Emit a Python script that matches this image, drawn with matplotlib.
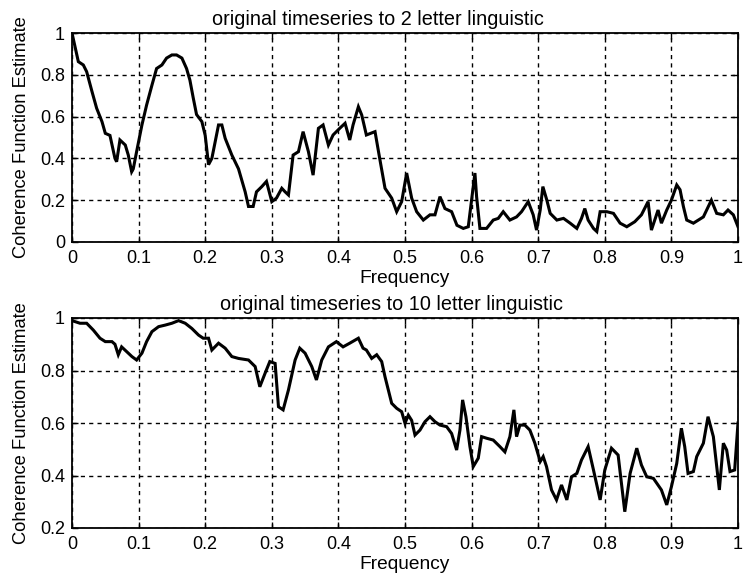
import matplotlib
matplotlib.use("Agg")
import matplotlib.pyplot as plt

plt.rcParams['font.family'] = ['Liberation Sans', 'DejaVu Sans']

# ---- data: top panel (2 letter) ----
freq_top = [0.0, 0.0095, 0.017, 0.022, 0.030, 0.037, 0.045, 0.050, 0.057, 0.0645,
            0.067, 0.072, 0.080, 0.0845, 0.0896, 0.092, 0.097, 0.105, 0.112, 0.12,
            0.127, 0.135, 0.142, 0.15, 0.157, 0.165, 0.172, 0.177, 0.182, 0.187,
            0.195, 0.20, 0.205, 0.21, 0.22, 0.225, 0.23, 0.24, 0.25, 0.26,
            0.265, 0.272, 0.277, 0.285, 0.292, 0.30, 0.307, 0.315, 0.32, 0.325,
            0.332, 0.34, 0.347, 0.355, 0.362, 0.37, 0.377, 0.385, 0.392, 0.402,
            0.41, 0.417, 0.422, 0.43, 0.435, 0.442, 0.455, 0.462, 0.47, 0.48,
            0.4875, 0.495, 0.5025, 0.51, 0.5175, 0.5275, 0.5375, 0.545, 0.5525, 0.56,
            0.57, 0.578, 0.5875, 0.595, 0.60, 0.605, 0.6075, 0.6125, 0.6225, 0.6325,
            0.64, 0.6475, 0.6575, 0.6675, 0.675, 0.685, 0.6925, 0.6975, 0.703, 0.707,
            0.713, 0.718, 0.728, 0.738, 0.748, 0.758, 0.765, 0.77, 0.775, 0.783,
            0.788, 0.793, 0.803, 0.813, 0.823, 0.833, 0.845, 0.855, 0.865, 0.87,
            0.875, 0.88, 0.885, 0.893, 0.90, 0.908, 0.913, 0.918, 0.923, 0.933,
            0.948, 0.96, 0.968, 0.978, 0.985, 0.993, 1.0]
coh_top = [1.0, 0.863, 0.847, 0.815, 0.72, 0.64, 0.576, 0.52, 0.51, 0.40,
           0.384, 0.488, 0.464, 0.416, 0.336, 0.35, 0.432, 0.56, 0.655, 0.75,
           0.83, 0.847, 0.88, 0.895, 0.895, 0.88, 0.83, 0.775, 0.69, 0.61,
           0.576, 0.51, 0.37, 0.40, 0.56, 0.56, 0.496, 0.416, 0.35, 0.24,
           0.17, 0.17, 0.24, 0.265, 0.29, 0.193, 0.21, 0.257, 0.24, 0.225,
           0.416, 0.432, 0.528, 0.432, 0.32, 0.544, 0.56, 0.464, 0.512, 0.544,
           0.568, 0.488, 0.56, 0.647, 0.608, 0.512, 0.528, 0.40, 0.257, 0.21,
           0.145, 0.193, 0.33, 0.21, 0.145, 0.105, 0.13, 0.13, 0.217, 0.16,
           0.145, 0.08, 0.065, 0.073, 0.20, 0.33, 0.217, 0.065, 0.065, 0.105,
           0.113, 0.145, 0.105, 0.12, 0.145, 0.193, 0.13, 0.057, 0.153, 0.265,
           0.20, 0.137, 0.105, 0.113, 0.09, 0.065, 0.113, 0.16, 0.105, 0.065,
           0.05, 0.145, 0.145, 0.137, 0.09, 0.073, 0.097, 0.13, 0.193, 0.057,
           0.105, 0.153, 0.09, 0.153, 0.20, 0.273, 0.25, 0.17, 0.105, 0.09,
           0.12, 0.20, 0.137, 0.13, 0.153, 0.13, 0.073]

# ---- data: bottom panel (10 letter) ----
freq_bot = [0.0, 0.012, 0.022, 0.032, 0.042, 0.05, 0.06, 0.0645, 0.0695, 0.0745,
            0.082, 0.09, 0.097, 0.105, 0.112, 0.12, 0.13, 0.14, 0.15, 0.16,
            0.17, 0.18, 0.19, 0.197, 0.205, 0.21, 0.22, 0.23, 0.24, 0.25,
            0.265, 0.275, 0.282, 0.29, 0.297, 0.305, 0.31, 0.317, 0.325, 0.335,
            0.342, 0.35, 0.36, 0.367, 0.375, 0.385, 0.397, 0.407, 0.417, 0.43,
            0.437, 0.442, 0.45, 0.4575, 0.465, 0.47, 0.475, 0.48, 0.4875, 0.495,
            0.50, 0.505, 0.51, 0.515, 0.5225, 0.53, 0.5375, 0.545, 0.5525, 0.5625,
            0.57, 0.5775, 0.5825, 0.5865, 0.5915, 0.5975, 0.6025, 0.61, 0.615, 0.6225,
            0.6325, 0.6425, 0.65, 0.6575, 0.6635, 0.6675, 0.6725, 0.68, 0.6875, 0.695,
            0.703, 0.7075, 0.7125, 0.72, 0.7275, 0.735, 0.743, 0.75, 0.758, 0.765,
            0.775, 0.783, 0.793, 0.80, 0.81, 0.82, 0.83, 0.838, 0.848, 0.855,
            0.863, 0.873, 0.885, 0.893, 0.90, 0.908, 0.915, 0.92, 0.925, 0.933,
            0.938, 0.948, 0.955, 0.963, 0.972, 0.978, 0.983, 0.988, 0.995, 1.0]
coh_bot = [0.99, 0.98, 0.98, 0.954, 0.923, 0.91, 0.91, 0.90, 0.86, 0.89,
           0.872, 0.853, 0.84, 0.866, 0.91, 0.948, 0.967, 0.973, 0.98, 0.99,
           0.98, 0.96, 0.935, 0.923, 0.923, 0.878, 0.904, 0.885, 0.853, 0.846,
           0.84, 0.815, 0.738, 0.79, 0.834, 0.827, 0.662, 0.65, 0.726, 0.84,
           0.885, 0.866, 0.815, 0.764, 0.84, 0.89, 0.91, 0.89, 0.904, 0.923,
           0.885, 0.878, 0.846, 0.86, 0.834, 0.776, 0.726, 0.675, 0.656, 0.643,
           0.599, 0.63, 0.61, 0.554, 0.573, 0.605, 0.624, 0.605, 0.592, 0.586,
           0.56, 0.497, 0.573, 0.688, 0.624, 0.51, 0.434, 0.466, 0.548, 0.542,
           0.535, 0.51, 0.49, 0.548, 0.65, 0.548, 0.592, 0.592, 0.573, 0.523,
           0.453, 0.472, 0.434, 0.345, 0.307, 0.364, 0.307, 0.395, 0.408, 0.459,
           0.51, 0.421, 0.307, 0.421, 0.504, 0.478, 0.262, 0.408, 0.504, 0.44,
           0.395, 0.389, 0.345, 0.288, 0.357, 0.446, 0.58, 0.51, 0.408, 0.415,
           0.472, 0.523, 0.624, 0.548, 0.345, 0.523, 0.497, 0.415, 0.421, 0.60]

titles = ["original timeseries to 2 letter linguistic",
          "original timeseries to 10 letter linguistic"]
xlabel = "Frequency"
ylabel = "Coherence Function Estimate"
xticks = [0, 0.1, 0.2, 0.3, 0.4, 0.5, 0.6, 0.7, 0.8, 0.9, 1]
xticklabels = ["0", "0.1", "0.2", "0.3", "0.4", "0.5", "0.6", "0.7", "0.8", "0.9", "1"]
yticks_top = [0, 0.2, 0.4, 0.6, 0.8, 1]
yticklabels_top = ["0", "0.2", "0.4", "0.6", "0.8", "1"]
yticks_bot = [0.2, 0.4, 0.6, 0.8, 1]
yticklabels_bot = ["0.2", "0.4", "0.6", "0.8", "1"]

W, H = 743, 576
fig = plt.figure(figsize=(W / 100, H / 100), dpi=100)
fig.patch.set_facecolor("white")

ax1 = fig.add_axes([72 / W, 1 - 242 / H, 666 / W, 209 / H])
ax2 = fig.add_axes([72 / W, 1 - 528 / H, 666 / W, 210 / H])

panels = [
    (ax1, freq_top, coh_top, (0, 1), yticks_top, yticklabels_top, titles[0], 0.46),
    (ax2, freq_bot, coh_bot, (0.2, 1), yticks_bot, yticklabels_bot, titles[1], 0.48),
]
fs_tick = 13
fs_title = 14.3
fs_xlab = 13.8
fs_ylab = 13.2
for ax, x, y, ylim, yt, ytl, title, tx in panels:
    ax.plot(x, y, color="black", linewidth=2.2, solid_joinstyle="miter")
    ax.set_xlim(0, 1)
    ax.set_ylim(*ylim)
    ax.set_xticks(xticks)
    ax.set_xticklabels(xticklabels, fontsize=fs_tick)
    ax.set_yticks(yt)
    ax.set_yticklabels(ytl, fontsize=fs_tick)
    ax.grid(True, color="black", linestyle=(0, (3, 3)), linewidth=1.0)
    ax.tick_params(direction="in", length=4, width=1, top=True, right=True,
                   colors="black")
    ax.tick_params(axis="x", pad=6)
    ax.tick_params(axis="y", pad=5)
    for s in ax.spines.values():
        s.set_linewidth(1.3)
        s.set_color("black")
    ax.set_title(title, fontsize=fs_title, pad=5.5, x=tx)
    ax.set_xlabel(xlabel, fontsize=fs_xlab, labelpad=2)
    ax.set_ylabel(ylabel, fontsize=fs_ylab, labelpad=7)

fig.savefig("out.png", dpi=100, facecolor="white")
